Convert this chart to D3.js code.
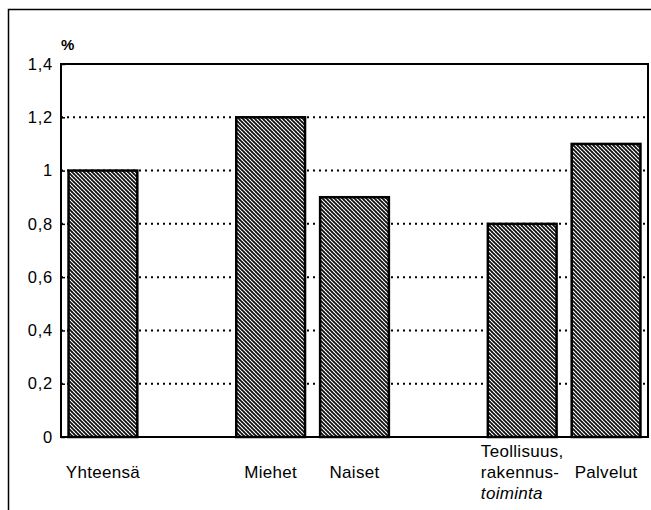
<!DOCTYPE html>
<html>
<head>
<meta charset="utf-8">
<script src="https://cdn.jsdelivr.net/npm/d3@7"></script>
<style>
  body { margin: 0; background: #fff; }
  svg { display: block; font-family: "Liberation Sans", Arial, sans-serif; }
</style>
</head>
<body>
<svg id="chart" width="651" height="510"></svg>
<script>
// slots along the x axis; '_g' entries are the gaps between groups
const slots = ['Yhteensä', '_g1', 'Miehet', 'Naiset', '_g2', 'Teollisuus', 'Palvelut'];
const categories = ['Yhteensä', 'Miehet', 'Naiset', 'Teollisuus', 'Palvelut'];
const values = [1.0, 1.2, 0.9, 0.8, 1.1];
const labelLines = [['Yhteensä'], ['Miehet'], ['Naiset'], ['Teollisuus,', 'rakennus-', 'toiminta'], ['Palvelut']];
const yTicks = [0, 0.2, 0.4, 0.6, 0.8, 1, 1.2, 1.4];

const svg = d3.select('#chart');
const plot = { left: 61, right: 648, top: 64, bottom: 437 };

// outer frame (only top and left edges inside the picture)
svg.append('rect')
  .attr('x', 8.5).attr('y', 9.5)
  .attr('width', 700).attr('height', 600)
  .attr('fill', 'none').attr('stroke', '#000').attr('stroke-width', 1.5);

// hatch pattern
const defs = svg.append('defs');
const pat = defs.append('pattern')
  .attr('id', 'hatch')
  .attr('patternUnits', 'userSpaceOnUse')
  .attr('width', 4).attr('height', 4);
pat.append('rect').attr('width', 4).attr('height', 4).attr('fill', '#fff');
pat.append('path')
  .attr('d', 'M-1,-1 L5,5 M-1,3 L1,5 M3,-1 L5,1')
  .attr('stroke', '#111').attr('stroke-width', 1.6);
pat.append('path')
  .attr('d', 'M-1,5 L5,-1 M-1,1 L1,-1 M3,5 L5,3')
  .attr('stroke', '#333').attr('stroke-width', 0.7);

const x = d3.scaleBand().domain(slots).range([plot.left, plot.right])
  .paddingInner(0.18).paddingOuter(0.09);
const y = d3.scaleLinear().domain([0, 1.4]).range([plot.bottom, plot.top]);

// dotted gridlines
svg.append('g')
  .selectAll('line')
  .data(yTicks.filter(t => t > 0 && t < 1.4))
  .join('line')
  .attr('x1', plot.left).attr('x2', plot.right)
  .attr('y1', d => y(d)).attr('y2', d => y(d))
  .attr('stroke', '#000').attr('stroke-width', 2)
  .attr('stroke-dasharray', '2,4');

// bars
svg.append('g')
  .selectAll('rect')
  .data(categories)
  .join('rect')
  .attr('x', d => x(d))
  .attr('width', x.bandwidth())
  .attr('y', (d, i) => y(values[i]))
  .attr('height', (d, i) => y(0) - y(values[i]))
  .attr('fill', 'url(#hatch)')
  .attr('stroke', '#000').attr('stroke-width', 2.5);

// plot frame
svg.append('rect')
  .attr('x', plot.left).attr('y', plot.top)
  .attr('width', plot.right - plot.left).attr('height', plot.bottom - plot.top)
  .attr('fill', 'none').attr('stroke', '#000').attr('stroke-width', 2);

// y axis
const yAxis = d3.axisLeft(y).tickValues(yTicks)
  .tickSize(-4).tickPadding(8)
  .tickFormat(d => String(d).replace('.', ','));
const ya = svg.append('g').attr('transform', `translate(${plot.left},0)`).call(yAxis);
ya.select('.domain').remove();
ya.selectAll('.tick line').attr('stroke', '#000').attr('stroke-width', 1.5);
ya.selectAll('.tick text')
  .attr('font-size', 16.5).attr('fill', '#000')
  .attr('letter-spacing', 0.8)
  .attr('font-family', '"Liberation Sans", Arial, sans-serif');

svg.append('text')
  .attr('x', 61).attr('y', 50)
  .attr('font-size', 15).attr('font-weight', 'bold')
  .text('%');

// category labels, multi-line blocks centred on the common baseline
const baseY = 478, lineH = 21;
categories.forEach((c, i) => {
  const cx = x(c) + x.bandwidth() / 2;
  const lines = labelLines[i];
  const g = svg.append('text')
    .attr('font-size', 17).attr('letter-spacing', 0.3).attr('fill', '#000');
  lines.forEach((l, k) => {
    g.append('tspan')
      .attr('x', cx)
      .attr('y', baseY + (k - (lines.length - 1) / 2) * lineH)
      .attr('text-anchor', 'middle')
      .attr('font-style', l === 'toiminta' ? 'italic' : null)
      .text(l);
  });
  if (lines.length > 1) {
    // left-align lines within a centred block
    const bb = g.node().getBBox();
    g.selectAll('tspan').attr('text-anchor', 'start').attr('x', cx - bb.width / 2);
  }
});
</script>
</body>
</html>
